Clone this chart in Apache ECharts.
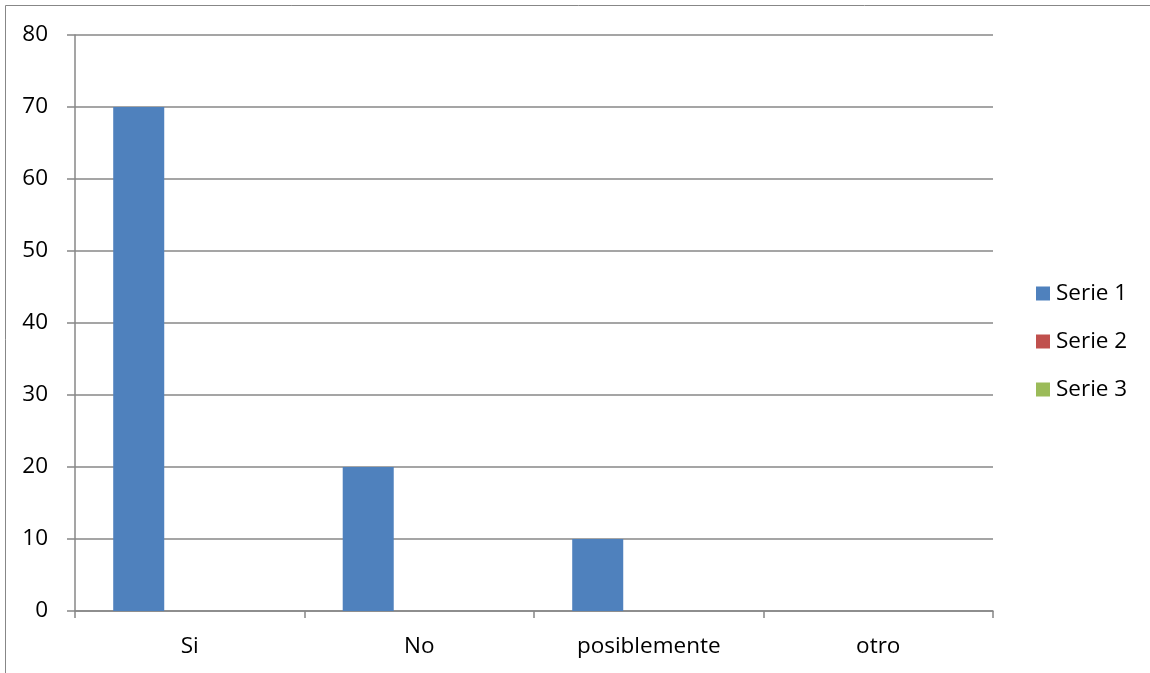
<!DOCTYPE html>
<html>
<head>
<meta charset="utf-8">
<title>Serie 1 – Serie 3</title>
<script src="https://cdn.jsdelivr.net/npm/echarts@6/dist/echarts.min.js"></script>
<style>
  html, body { margin: 0; padding: 0; background: #fff; }
  #chart { width: 1150px; height: 673px; }
</style>
</head>
<body>
<div id="chart"></div>
<script>
// Categories and values
const categories = ['Si', 'No', 'posiblemente', 'otro'];
const serie1 = [70, 20, 10, 0];
const serie2 = [0, 0, 0, 0];
const serie3 = [0, 0, 0, 0];
const seriesNames = ['Serie 1', 'Serie 2', 'Serie 3'];
const yTicks = { min: 0, max: 80, interval: 10 };

const FONT = '"Open Sans", "Noto Sans", sans-serif';
const FONT_SIZE = 22.5;
const GRID_GREY = '#878787';
const colors = ['#4F81BD', '#C0504D', '#9BBB59'];

const chart = echarts.init(document.getElementById('chart'), null, { renderer: 'canvas' });

const option = {
  animation: false,
  backgroundColor: '#ffffff',
  color: colors,
  textStyle: { fontFamily: FONT, color: '#000' },
  graphic: [{
    type: 'rect',
    shape: { x: 5.5, y: 5.5, width: 1300, height: 800 },
    style: { fill: 'none', stroke: GRID_GREY, lineWidth: 1 },
    silent: true
  }],
  grid: { left: 75, right: 157, top: 35, bottom: 62, containLabel: false },
  legend: {
    orient: 'vertical',
    left: 1031,
    top: 277,
    icon: 'rect',
    itemWidth: 14,
    itemHeight: 14,
    itemGap: 25,
    textStyle: { fontFamily: FONT, fontSize: FONT_SIZE, color: '#000', padding: [0, 0, 0, 1] },
    data: seriesNames
  },
  xAxis: {
    type: 'category',
    data: categories,
    axisLine: { lineStyle: { color: GRID_GREY, width: 1.5 } },
    axisTick: { show: true, length: 7, lineStyle: { color: GRID_GREY, width: 1.5 } },
    axisLabel: { fontFamily: FONT, fontSize: FONT_SIZE, color: '#000', margin: 24 },
    splitLine: { show: false }
  },
  yAxis: {
    type: 'value',
    min: yTicks.min,
    max: yTicks.max,
    interval: yTicks.interval,
    axisLine: { show: true, lineStyle: { color: GRID_GREY, width: 1.5 } },
    axisTick: { show: true, length: 8, lineStyle: { color: GRID_GREY, width: 1.5 } },
    axisLabel: { fontFamily: FONT, fontSize: FONT_SIZE, color: '#000', margin: 27 },
    splitLine: { show: true, lineStyle: { color: GRID_GREY, width: 1.5 } }
  },
  series: [
    { name: seriesNames[0], type: 'bar', data: serie1, barGap: '0%', barCategoryGap: '33.3%' },
    { name: seriesNames[1], type: 'bar', data: serie2, barGap: '0%', barCategoryGap: '33.3%' },
    { name: seriesNames[2], type: 'bar', data: serie3, barGap: '0%', barCategoryGap: '33.3%' }
  ]
};

chart.setOption(option);
</script>
</body>
</html>
